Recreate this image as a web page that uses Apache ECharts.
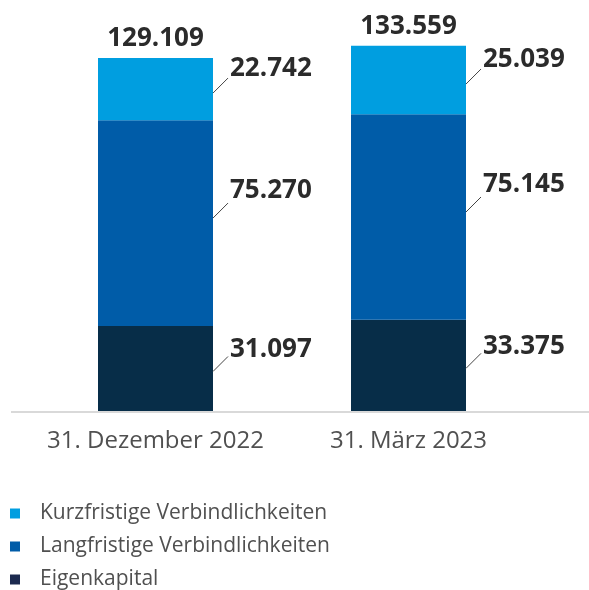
<!DOCTYPE html>
<html>
<head>
<meta charset="utf-8">
<script src="https://cdn.jsdelivr.net/npm/echarts@6/dist/echarts.min.js"></script>
<style>
  html, body { margin: 0; padding: 0; background: #fff; }
  #chart { width: 589px; height: 590px; }
</style>
</head>
<body>
<div id="chart"></div>
<script>
const categories = ['31. Dezember 2022', '31. März 2023']
const eigenkapital = [31.097, 33.375]
const langfristig = [75.270, 75.145]
const kurzfristig = [22.742, 25.039]
const totals = [129.109, 133.559]

const colors = {
  kurz: '#009EE0',
  lang: '#005CA8',
  eigen: '#072D48'
}
const barWidth = 115
const font = 'Open Sans'
// vertical shift of label / leader line start per stack layer (bottom to top)
const labelShift = [-19, -32, -20]
const lineShift = [3, -5, 4]

const fmt = v => v.toFixed(3)

const segLabel = (layer) => ({
  show: true,
  position: 'right',
  distance: 17,
  offset: [0, labelShift[layer]],
  fontFamily: font,
  fontSize: 26,
  fontWeight: 'bold',
  color: '#2b2b2b',
  formatter: p => fmt(p.value)
})

// leader lines: one per segment, from bar edge towards its label
const leaders = []
categories.forEach((c, i) => {
  let base = 0
  ;[eigenkapital, langfristig, kurzfristig].forEach((arr, layer) => {
    leaders.push([i, base, arr[i], layer])
    base += arr[i]
  })
})

const chart = echarts.init(document.getElementById('chart'))

chart.setOption({
  animation: false,
  grid: {
    left: 29,
    right: 54,
    top: 20,
    bottom: 179
  },
  legend: {
    orient: 'vertical',
    left: 10,
    top: 503,
    height: 87,
    padding: 0,
    itemWidth: 10,
    itemHeight: 10,
    itemGap: 12,
    icon: 'rect',
    textStyle: {
      fontFamily: font,
      fontSize: 21,
      color: '#505050',
      padding: [0, 0, 0, 15]
    },
    data: [
      { name: 'Kurzfristige Verbindlichkeiten', itemStyle: { color: colors.kurz } },
      { name: 'Langfristige Verbindlichkeiten', itemStyle: { color: colors.lang } },
      { name: 'Eigenkapital', itemStyle: { color: '#1c2a4f' } }
    ]
  },
  xAxis: {
    type: 'category',
    data: categories,
    axisLine: { show: false },
    axisTick: { show: false },
    axisLabel: {
      interval: 0,
      hideOverlap: false,
      margin: 18,
      fontFamily: font,
      fontSize: 24,
      color: '#505050'
    }
  },
  yAxis: {
    type: 'value',
    min: 0,
    max: 143,
    show: false
  },
  graphic: [{
    type: 'line',
    shape: { x1: 11, y1: 412, x2: 589, y2: 412 },
    style: { stroke: '#d9d9d9', lineWidth: 2 },
    z: 0
  }],
  series: [
    {
      name: 'Eigenkapital',
      type: 'bar',
      stack: 'total',
      barWidth: barWidth,
      itemStyle: { color: colors.eigen },
      label: segLabel(0),
      data: eigenkapital
    },
    {
      name: 'Langfristige Verbindlichkeiten',
      type: 'bar',
      stack: 'total',
      barWidth: barWidth,
      itemStyle: { color: colors.lang },
      label: segLabel(1),
      data: langfristig
    },
    {
      name: 'Kurzfristige Verbindlichkeiten',
      type: 'bar',
      stack: 'total',
      barWidth: barWidth,
      itemStyle: { color: colors.kurz },
      label: segLabel(2),
      data: kurzfristig
    },
    {
      name: 'Summe',
      type: 'bar',
      stack: 'total',
      barWidth: barWidth,
      itemStyle: { color: 'transparent' },
      label: {
        show: true,
        position: 'top',
        distance: 6,
        fontFamily: font,
        fontSize: 26,
        fontWeight: 'bold',
        color: '#2b2b2b',
        formatter: p => fmt(totals[p.dataIndex])
      },
      data: totals.map(() => 0)
    },
    {
      name: 'leader',
      type: 'custom',
      silent: true,
      z: 5,
      renderItem: (params, api) => {
        const i = api.value(0)
        const base = api.value(1)
        const v = api.value(2)
        const layer = api.value(3)
        const bottom = api.coord([i, base])
        const top = api.coord([i, base + v])
        const y = (bottom[1] + top[1]) / 2 + lineShift[layer]
        const x = bottom[0] + barWidth / 2
        return {
          type: 'line',
          shape: { x1: x, y1: y, x2: x + 15, y2: y - 15 },
          style: { stroke: '#444', lineWidth: 1 }
        }
      },
      data: leaders
    }
  ]
})
</script>
</body>
</html>
